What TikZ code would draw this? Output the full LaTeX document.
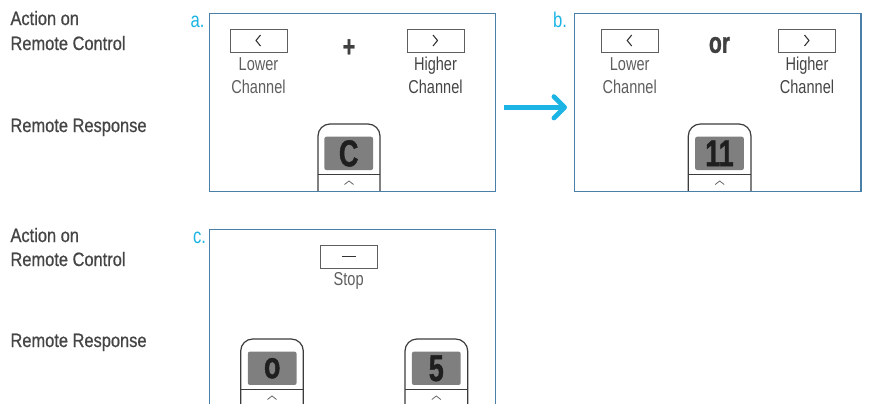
\documentclass[tikz,border=0pt]{standalone}
\usepackage{fontspec}
\setmainfont{Liberation Sans}[FakeStretch=0.85,FakeBold=0.7]
\newfontfamily\keyfont{Liberation Sans}[FakeStretch=0.78]
\newfontfamily\dispfont{Liberation Sans Bold}[FakeStretch=0.72,FakeBold=1.2]
\usetikzlibrary{arrows.meta}

\definecolor{panelblue}{HTML}{4A7FA8}
\definecolor{tagcyan}{HTML}{1BB4E4}
\definecolor{txtgray}{HTML}{5E5E5E}
\definecolor{txtdark}{HTML}{454545}
\definecolor{dispgray}{HTML}{7F7F7F}
\definecolor{shellgray}{HTML}{3C3C3C}

\tikzset{every picture/.style={line width=0.75pt}}
\tikzset{
  panel/.style={draw=panelblue, line width=1.1pt},
  tag/.style={anchor=base west, text=tagcyan, inner sep=0pt, font=\keyfont\fontsize{16}{16}\selectfont},
  rowlbl/.style={anchor=base west, text=txtdark, inner sep=0pt, font=\fontsize{14.5}{16}\selectfont},
  keylbl/.style={anchor=base, inner sep=0pt, font=\keyfont\fontsize{14}{16}\selectfont},
  keybox/.style={draw=txtgray, line width=0.7pt, minimum width=42.75pt, minimum height=17.25pt, inner sep=0pt},
  keyglyph/.style={draw=black!80, line width=0.8pt},
  shell/.style={draw=shellgray, line width=0.9pt, rounded corners=9pt},
  screen/.style={fill=dispgray, rounded corners=1.5pt, minimum width=36.5pt, minimum height=25pt, inner sep=0pt, text=black!88, font=\dispfont\fontsize{28}{28}\selectfont},
  caret/.style={draw=black!60, line width=0.6pt},
  opword/.style={text=black!75, inner sep=0pt, font=\dispfont\fontsize{22}{22}\selectfont},
  flowarrow/.style={draw=tagcyan, line width=3.6pt, -{Straight Barb[length=8pt,width=16pt,round]}},
}

\begin{document}
\begin{tikzpicture}[x=0.75pt,y=0.75pt,yscale=-1,xscale=1]
\useasboundingbox (0,0) rectangle (869,404);

% Row labels
\node[rowlbl] (actA) at (10,25) {Action on};
\node[rowlbl] (ctlA) at (10,50) {Remote Control};
\node[rowlbl] (rspA) at (10,132) {Remote Response};
\node[rowlbl] (actC) at (10,242) {Action on};
\node[rowlbl] (ctlC) at (10,266) {Remote Control};
\node[rowlbl] (rspC) at (10,347) {Remote Response};

%Remote a
\draw[shell] (318,191) -- (318,124) -- (380,124) -- (380,191);
\draw[shellgray, line width=0.6pt] (318,174) -- (380,174);
\draw[caret] (344.5,184.5) -- (349,181) -- (353.5,184.5);
\node[screen] (scrA) at (348.7,153.4) {C};
%Remote b
\draw[shell] (688.3,191) -- (688.3,124) -- (751,124) -- (751,191);
\draw[shellgray, line width=0.6pt] (688.3,174) -- (751,174);
\draw[caret] (715.2,184.5) -- (719.7,181) -- (724.2,184.5);
\node[screen] (scrB) at (719.5,153.4) {11};
%Remote c left
\draw[shell] (240.7,404) -- (240.7,339) -- (303.3,339) -- (303.3,404);
\draw[shellgray, line width=0.6pt] (240.7,389) -- (303.3,389);
\draw[caret] (267.5,399.5) -- (272,396) -- (276.5,399.5);
\node[screen] (scrC) at (272.2,368.3) {o};
%Remote c right
\draw[shell] (405,404) -- (405,339) -- (467.7,339) -- (467.7,404);
\draw[shellgray, line width=0.6pt] (405,389) -- (467.7,389);
\draw[caret] (431.8,399.5) -- (436.3,396) -- (440.8,399.5);
\node[screen] (scrD) at (436.3,368.3) {5};

%Panels
\draw[panel] (209.3,13.3) rectangle (495.7,191.3);
\draw[panel] (574.7,13.3) rectangle (861,191.3);
\draw[panel] (209.3,404) -- (209.3,229.3) -- (495.7,229.3) -- (495.7,404);

% Text Node
\node[tag] (tagA) at (190,27) {a.};
\node[tag] (tagB) at (552.7,27) {b.};
\node[tag] (tagC) at (192.5,243) {c.};

%Keys a
\node[keybox] (lowA) at (258.5,40.7) {};
\draw[keyglyph] (260.5,35) -- (256,40.5) -- (260.5,46);
\node[keybox] (highA) at (435.5,40.7) {};
\draw[keyglyph] (433,35) -- (437.5,40.5) -- (433,46);
\node[opword] (plusA) at (349,48) {+};
\node[keylbl, text=txtgray] (lowA1) at (258.5,70) {Lower};
\node[keylbl, text=txtgray] (lowA2) at (258.5,93) {Channel};
\node[keylbl, text=txtdark] (highA1) at (435.5,70) {Higher};
\node[keylbl, text=txtdark] (highA2) at (435.5,93) {Channel};

%Keys b
\node[keybox] (lowB) at (629.7,40.7) {};
\draw[keyglyph] (631.7,35) -- (627.2,40.5) -- (631.7,46);
\node[keybox] (highB) at (807,40.7) {};
\draw[keyglyph] (804.5,35) -- (809,40.5) -- (804.5,46);
\node[opword] (orB) at (719.5,45) {or};
\node[keylbl, text=txtgray] (lowB1) at (629.7,70) {Lower};
\node[keylbl, text=txtgray] (lowB2) at (629.7,93) {Channel};
\node[keylbl, text=txtdark] (highB1) at (807,70) {Higher};
\node[keylbl, text=txtdark] (highB2) at (807,93) {Channel};

%Key c
\node[keybox] (stopC) at (348.7,256.7) {};
\draw[keyglyph] (341.7,256.7) -- (355.7,256.7);
\node[keylbl, text=txtgray] (stopC1) at (348.7,285) {Stop};

%Arrow a to b
\coordinate (arrA) at (504,107.3);
\coordinate (arrB) at (567,107.3);
\draw[flowarrow] (arrA) -- (arrB);

\end{tikzpicture}
\end{document}
